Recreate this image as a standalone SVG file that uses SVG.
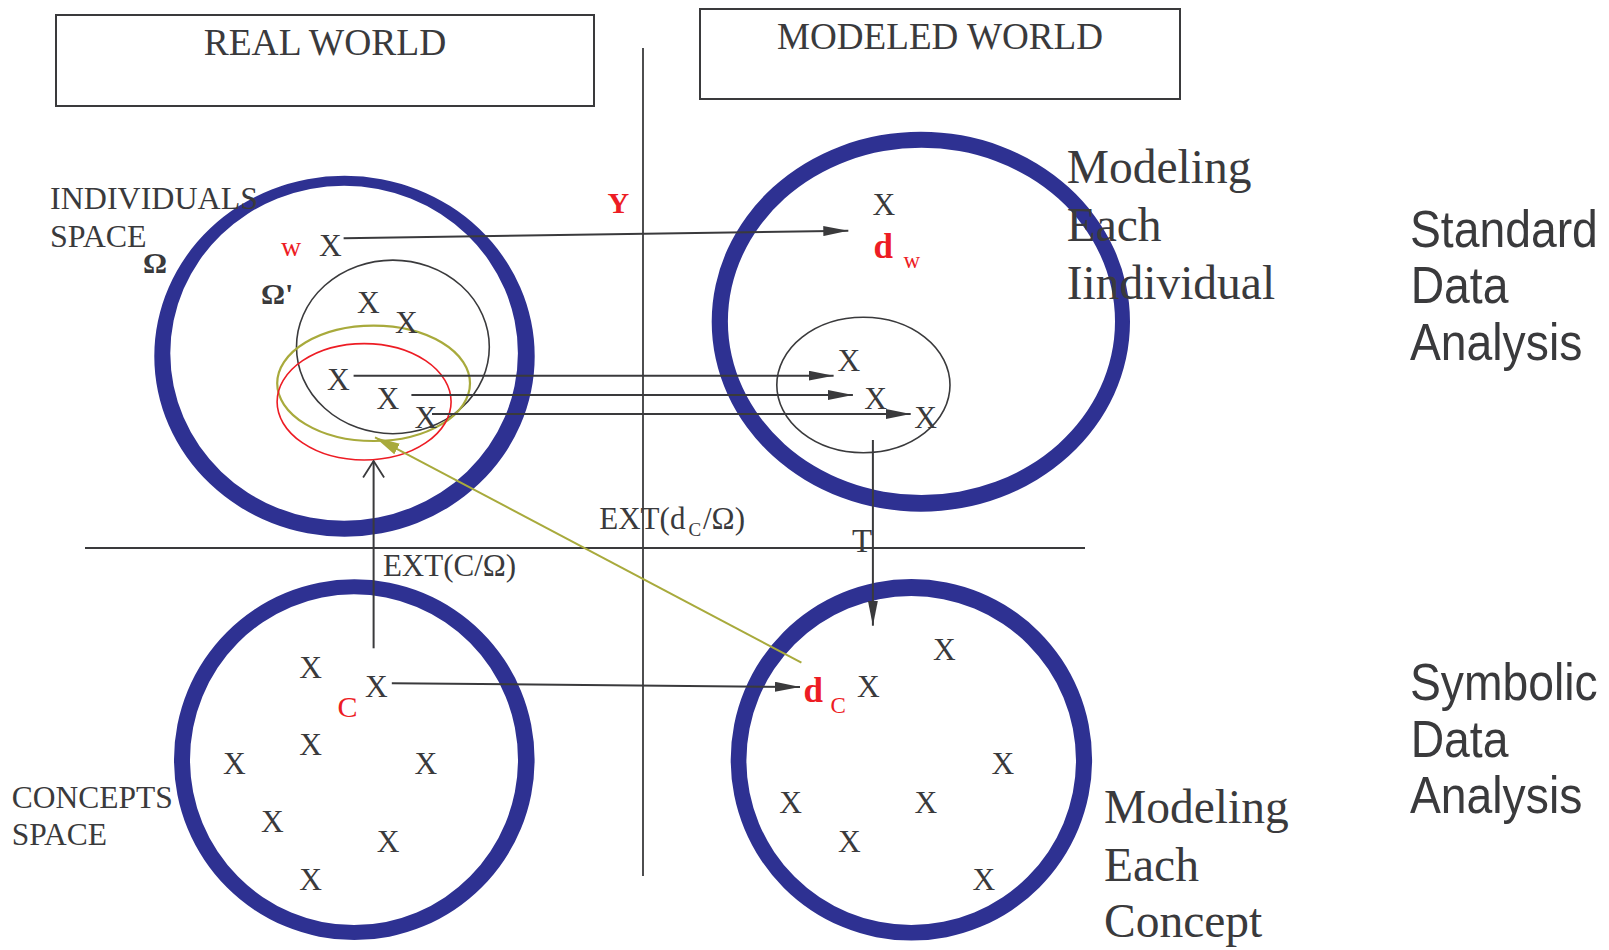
<svg xmlns="http://www.w3.org/2000/svg" width="1609" height="950" viewBox="0 0 1609 950">
<defs>
<style>
.t{font-family:"Liberation Serif","Times New Roman",serif;fill:#3a3a3c}
.s{font-family:"Liberation Sans",Arial,sans-serif;fill:#3a3a3c;font-size:52px}
.x{font-family:"Liberation Serif","Times New Roman",serif;fill:#3a3a3c;font-size:31.5px}
.r{fill:#ed1c24}
.b{font-weight:bold}
.ring{fill:#2e3192;fill-rule:evenodd;stroke:none}
.ln{stroke:#3a3a3c;stroke-width:2;fill:none}
.dv{stroke:#3a3a3c;stroke-width:1.8;fill:none}
.box{fill:#fff;stroke:#3a3a3c;stroke-width:2}
</style>
<marker id="arr" markerUnits="userSpaceOnUse" markerWidth="26" markerHeight="10" refX="25" refY="5" orient="auto" viewBox="0 0 26 10"><path d="M0,0 L25,5 L0,10 Z" fill="#3a3a3c"/></marker>
<marker id="arrO" markerUnits="userSpaceOnUse" markerWidth="26" markerHeight="12" refX="25" refY="6" orient="auto" viewBox="0 0 26 12"><path d="M0,0 L25,6 L0,12 Z" fill="#a8aa3c"/></marker>
<marker id="arrV" markerUnits="userSpaceOnUse" markerWidth="19" markerHeight="23" refX="17.5" refY="11.5" orient="auto" viewBox="0 0 19 23"><path d="M1,1 L17.5,11.5 L1,22" fill="none" stroke="#3a3a3c" stroke-width="1.8"/></marker>
</defs>
<rect width="1609" height="950" fill="#fff"/>

<g id="real-world-box">
<rect class="box" x="56" y="15" width="538" height="91"/>
<text class="t" x="325" y="55" font-size="37.5" text-anchor="middle">REAL WORLD</text>
</g>
<g id="modeled-world-box">
<rect class="box" x="700" y="9" width="480" height="90"/>
<text class="t" x="940" y="48.5" font-size="37" text-anchor="middle" textLength="326" lengthAdjust="spacingAndGlyphs">MODELED WORLD</text>
</g>

<g id="dividers">
<line class="dv" x1="643" y1="48" x2="643" y2="876"/>
<line class="dv" x1="85" y1="548" x2="1085" y2="548"/>
</g>

<g id="individuals-space">
<path class="ring" d="M154.3,356.2 A190.2,180.5 0 1 0 534.7,356.2 A190.2,180.5 0 1 0 154.3,356.2 Z M170.3,353.2 A173.8,167.5 0 1 0 517.9,353.2 A173.8,167.5 0 1 0 170.3,353.2 Z"/>
<text class="t" x="50" y="209.3" font-size="32">INDIVIDUALS</text>
<text class="t" x="50" y="246.7" font-size="32">SPACE</text>
<text class="t b" x="143" y="272.7" font-size="30">Ω</text>
<ellipse cx="392.9" cy="346.9" rx="96.4" ry="86.8" fill="none" stroke="#3a3a3c" stroke-width="1.6"/>
<text class="t b" x="261" y="304" font-size="30">Ω'</text>
<ellipse cx="373.6" cy="383.3" rx="96.4" ry="57.7" fill="none" stroke="#a8aa3c" stroke-width="2.2"/>
<ellipse cx="364.1" cy="401.8" rx="87" ry="58.2" fill="none" stroke="#ed1c24" stroke-width="1.6"/>
<text class="t r" x="281" y="256" font-size="28">w</text>
<text class="x" x="319" y="256">X</text>
<text class="x" x="357" y="313.3">X</text>
<text class="x" x="395" y="332.7">X</text>
<text class="x" x="327" y="390">X</text>
<text class="x" x="376.5" y="409">X</text>
<text class="x" x="414.5" y="428.3">X</text>
</g>

<g id="modeling-individuals">
<path class="ring" d="M711.7,321.7 A209.15,190 0 1 0 1130,321.7 A209.15,190 0 1 0 711.7,321.7 Z M727.9,321.4 A193.55,173.65 0 1 0 1115,321.4 A193.55,173.65 0 1 0 727.9,321.4 Z"/>
<text class="x" x="872.5" y="215">X</text>
<text class="t r b" x="873.5" y="258.3" font-size="35">d</text>
<text class="t r" x="903.5" y="268.3" font-size="23">w</text>
<ellipse cx="863.4" cy="385" rx="86.6" ry="67.7" fill="none" stroke="#3a3a3c" stroke-width="1.6"/>
<text class="x" x="837.5" y="370.7">X</text>
<text class="x" x="864.3" y="409.3">X</text>
<text class="x" x="914.3" y="428.3">X</text>
<text class="t" x="1066.7" y="183.3" font-size="47.5">Modeling</text>
<text class="t" x="1066.7" y="241.3" font-size="47.5">Each</text>
<text class="t" x="1066.7" y="299.3" font-size="47.5">Iindividual</text>
</g>

<g id="concepts-space">
<path class="ring" d="M174,759.7 A180.3,180.3 0 1 0 534.6,759.7 A180.3,180.3 0 1 0 174,759.7 Z M190,759.7 A164,165.3 0 1 0 518,759.7 A164,165.3 0 1 0 190,759.7 Z"/>
<text class="t" x="11.8" y="808.3" font-size="31.5">CONCEPTS</text>
<text class="t" x="11.8" y="845" font-size="31.5">SPACE</text>
<text class="x" x="299.3" y="678.3">X</text>
<text class="x" x="365" y="697.3">X</text>
<text class="t r" x="337.5" y="716.7" font-size="30">C</text>
<text class="x" x="299.3" y="755">X</text>
<text class="x" x="222.9" y="774.3">X</text>
<text class="x" x="414.6" y="774.3">X</text>
<text class="x" x="261" y="832">X</text>
<text class="x" x="376.8" y="851.7">X</text>
<text class="x" x="299.3" y="890">X</text>
</g>

<g id="modeling-concepts">
<path class="ring" d="M730.7,759.8 A180.7,180.8 0 1 0 1092.1,759.8 A180.7,180.8 0 1 0 730.7,759.8 Z M746.4,760.5 A164.8,164.5 0 1 0 1076,760.5 A164.8,164.5 0 1 0 746.4,760.5 Z"/>
<text class="t r b" x="803.5" y="701.7" font-size="35">d</text>
<text class="t r" x="830.4" y="713.3" font-size="23">C</text>
<text class="x" x="857" y="697.3">X</text>
<text class="x" x="933" y="660">X</text>
<text class="x" x="991.4" y="774.3">X</text>
<text class="x" x="779.3" y="813.3">X</text>
<text class="x" x="914.6" y="813.3">X</text>
<text class="x" x="837.9" y="851.7">X</text>
<text class="x" x="972.5" y="890">X</text>
<text class="t" x="1104" y="823.3" font-size="47.5">Modeling</text>
<text class="t" x="1104" y="880.5" font-size="47.5">Each</text>
<text class="t" x="1104" y="936.7" font-size="47.5">Concept</text>
</g>

<g id="standard-label" transform="translate(1410,0) scale(0.89,1)">
<text class="s" x="0" y="246.7">Standard</text>
<text class="s" x="0.8" y="303.3">Data</text>
<text class="s" x="0" y="360">Analysis</text>
</g>
<g id="symbolic-label" transform="translate(1410,0) scale(0.89,1)">
<text class="s" x="0" y="700">Symbolic</text>
<text class="s" x="0.8" y="756.7">Data</text>
<text class="s" x="0" y="813.3">Analysis</text>
</g>

<g id="connectors">
<line class="ln" x1="343.6" y1="238.3" x2="848.3" y2="230.7" marker-end="url(#arr)"/>
<line class="ln" x1="353.6" y1="375.7" x2="833.6" y2="375.7" marker-end="url(#arr)"/>
<line class="ln" x1="411.4" y1="395" x2="852.9" y2="395" marker-end="url(#arr)"/>
<line class="ln" x1="432" y1="414" x2="910.7" y2="414" marker-end="url(#arr)"/>
<line class="ln" x1="872.9" y1="440" x2="872.9" y2="625.7" marker-end="url(#arr)"/>
<line class="ln" x1="373.6" y1="648.3" x2="373.6" y2="461" marker-end="url(#arrV)"/>
<line x1="801.4" y1="662.7" x2="375" y2="437.3" stroke="#a8aa3c" stroke-width="2" marker-end="url(#arrO)"/>
<line class="ln" x1="391.8" y1="683.3" x2="800" y2="687" marker-end="url(#arr)"/>
</g>

<g id="labels">
<text class="t r b" x="607.5" y="212.7" font-size="30">Y</text>
<text class="t" x="852" y="551.7" font-size="33">T</text>
<text class="t" x="382.9" y="576" font-size="31">EXT(C/Ω)</text>
<text class="t" font-size="31"><tspan x="599.3" y="529.3">EXT(d</tspan><tspan x="688.6" y="536" font-size="19">C</tspan><tspan x="703" y="529.3">/Ω)</tspan></text>
</g>
</svg>
